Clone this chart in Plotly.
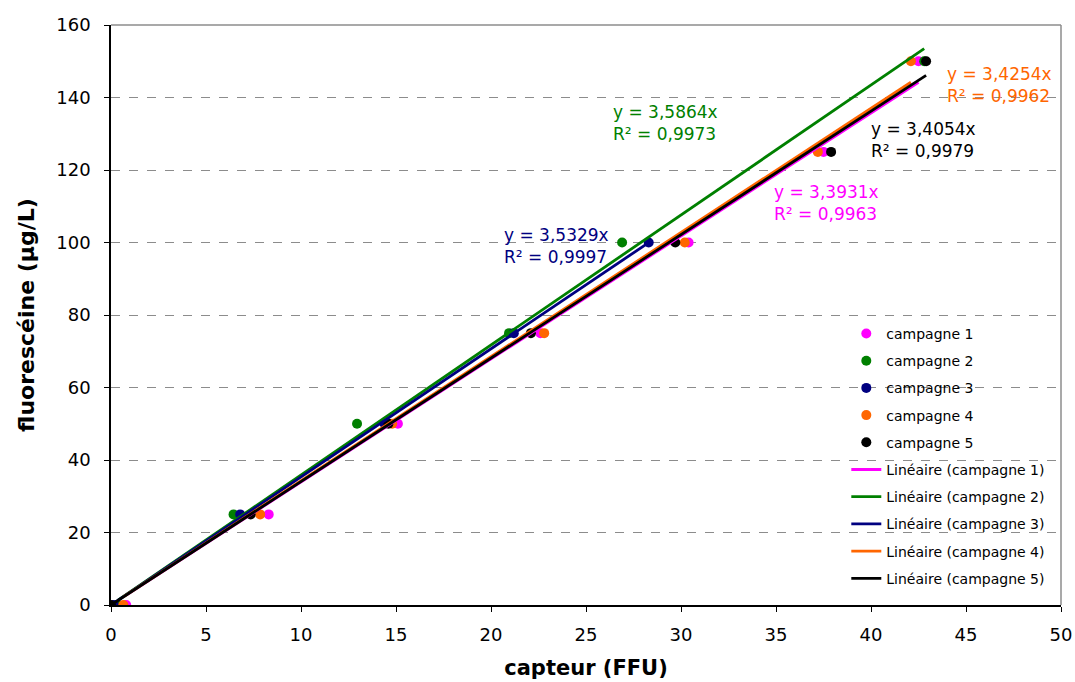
import plotly.graph_objects as go

# ---- data ----
series_names = ["campagne 1", "campagne 2", "campagne 3", "campagne 4", "campagne 5"]
c1_x = [0.8, 8.3, 15.1, 22.6, 30.4, 37.5, 42.5]
c1_y = [0, 25, 50, 75, 100, 125, 150]
c2_x = [0.35, 6.45, 12.95, 20.95, 26.9, 42.8]
c2_y = [0, 25, 50, 75, 100, 150]
c3_x = [0.15, 6.8, 14.4, 21.2, 28.3]
c3_y = [0, 25, 50, 75, 100]
c4_x = [0.65, 7.85, 14.8, 22.8, 30.2, 37.2, 42.1]
c4_y = [0, 25, 50, 75, 100, 125, 150]
c5_x = [0.0, 7.35, 14.6, 22.1, 29.7, 37.9, 42.9]
c5_y = [0, 25, 50, 75, 100, 125, 150]
slopes = [3.3931, 3.5864, 3.5329, 3.4254, 3.4054]
r2 = [0.9963, 0.9973, 0.9997, 0.9962, 0.9979]

xs = [c1_x, c2_x, c3_x, c4_x, c5_x]
ys = [c1_y, c2_y, c3_y, c4_y, c5_y]
colors = ["#FF00FF", "#008000", "#000080", "#FF6600", "#000000"]
FONT = "DejaVu Sans"

fig = go.Figure()
for i in range(5):
    fig.add_trace(go.Scatter(
        x=xs[i], y=ys[i], mode="markers", name=series_names[i],
        legendgroup=f"p{i}",
        marker=dict(color=colors[i], size=10, line=dict(width=0)),
    ))
for i in range(5):
    x0, x1 = min(xs[i]), max(xs[i])
    fig.add_trace(go.Scatter(
        x=[x0, x1], y=[slopes[i] * x0, slopes[i] * x1], mode="lines",
        name=f"Linéaire ({series_names[i]})", legendgroup=f"l{i}",
        line=dict(color=colors[i], width=2.8),
    ))

# equation labels
label_pos = [(34.8, 117.2), (26.3, 139.3), (20.6, 105.4), (43.9, 149.8), (39.9, 134.6)]
for i in range(5):
    txt = f"y = {slopes[i]:.4f}x".replace(".", ",") + "<br>" + f"R² = {r2[i]:.4f}".replace(".", ",")
    fig.add_annotation(x=label_pos[i][0], y=label_pos[i][1], text=txt, showarrow=False,
                       xanchor="left", yanchor="top", align="left",
                       font=dict(family=FONT, size=17, color=colors[i]))

# gray top/right border
fig.add_shape(type="line", xref="paper", yref="paper", x0=0, x1=1, y0=1, y1=1,
              line=dict(color="#8c8c8c", width=1.5), layer="above")
fig.add_shape(type="line", xref="paper", yref="paper", x0=1, x1=1, y0=0, y1=1,
              line=dict(color="#8c8c8c", width=1.5), layer="above")

fig.update_layout(
    width=1075, height=682,
    margin=dict(l=111, r=14, t=25, b=77, autoexpand=False),
    paper_bgcolor="white", plot_bgcolor="white",
    font=dict(family=FONT, size=17, color="black"),
    showlegend=True,
    legend=dict(x=0.774, y=0.495, xanchor="left", yanchor="top",
                bgcolor="rgba(0,0,0,0)", font=dict(family=FONT, size=14),
                tracegroupgap=6),
    xaxis=dict(range=[0, 50], dtick=5, tick0=0, showgrid=False, zeroline=False,
               automargin=False,
               showline=True, linecolor="black", linewidth=1.5,
               ticks="outside", ticklen=5, tickcolor="black", ticklabelstandoff=8,
               title=dict(text="<b>capteur (FFU)</b>", font=dict(family=FONT, size=21), standoff=16),
               tickfont=dict(family=FONT, size=18)),
    yaxis=dict(range=[0, 160], dtick=20, tick0=0, showgrid=True, gridcolor="#8c8c8c",
               griddash="dash", gridwidth=1, zeroline=False,
               automargin=False,
               showline=True, linecolor="black", linewidth=1.5,
               ticks="outside", ticklen=5, tickcolor="black", ticklabelstandoff=10,
               title=dict(text="<b>fluorescéine (µg/L)</b>", font=dict(family=FONT, size=22), standoff=16),
               tickfont=dict(family=FONT, size=18)),
)

fig.write_html("out.html")
